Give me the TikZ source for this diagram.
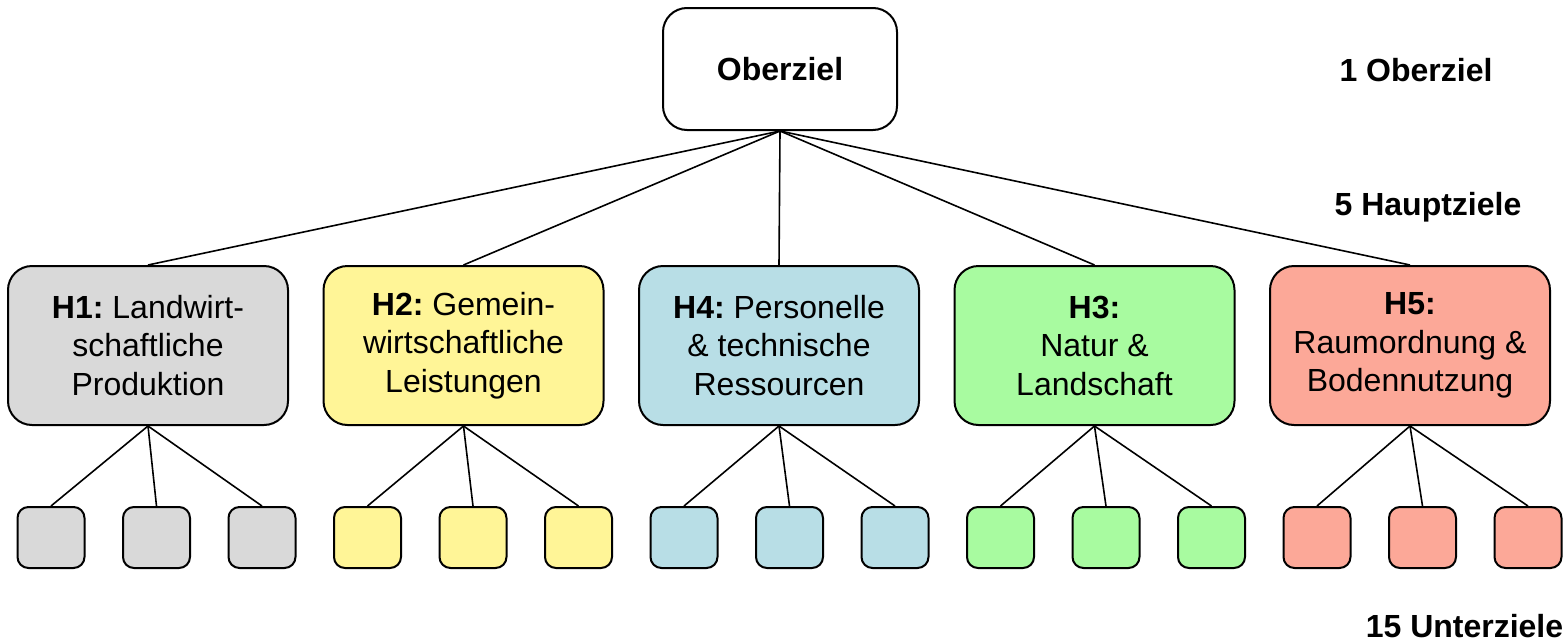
\documentclass[tikz,border=0pt]{standalone}
\usepackage{fontspec}
\setmainfont{Liberation Sans}
\frenchspacing
\definecolor{cgray}{HTML}{D9D9D9}
\definecolor{cyellow}{HTML}{FFF597}
\definecolor{cblue}{HTML}{B8DEE6}
\definecolor{cgreen}{HTML}{A8FBA0}
\definecolor{csalmon}{HTML}{FCA898}
\tikzset{
  bigfont/.style={font=\fontsize{32}{38.5}\selectfont},
  topbox/.style={draw, line width=2pt, rounded corners=24pt, fill=white, minimum width=234pt, minimum height=122pt, inner sep=0pt, bigfont},
  hbox/.style={draw, line width=2pt, rounded corners=24pt, minimum width=280pt, minimum height=159pt, inner sep=0pt, align=center, bigfont},
  ubox/.style={draw, line width=2pt, rounded corners=11pt, minimum width=67pt, minimum height=61pt, inner sep=0pt},
  conn/.style={line width=1.6pt},
  lvl/.style={anchor=base, inner sep=0pt, bigfont}
}
\begin{document}
\begin{tikzpicture}[x=1pt,y=-1pt]
\useasboundingbox (0,0) rectangle (1564,643);
\node[topbox] (O) at (780,69) {\textbf{Oberziel}};
\node[hbox, fill=cgray]    (H1) at (148,345.5)  {\textbf{H1:} Landwirt-\\schaftliche\\Produktion};
\node[hbox, fill=cyellow]  (H2) at (463.5,345.5){\textbf{H2:} Gemein-\\wirtschaftliche\\Leistungen};
\node[hbox, fill=cblue]    (H4) at (779,345.5)  {\textbf{H4:} Personelle\\\& technische\\Ressourcen};
\node[hbox, fill=cgreen]   (H3) at (1094.5,345.5){\textbf{H3:}\\Natur \&\\Landschaft};
\node[hbox, fill=csalmon]  (H5) at (1410,345.5) {\textbf{H5:}\\Raumordnung \&\\Bodennutzung};
\foreach \h in {H1,H2,H4,H3,H5} \draw[conn] (O.south) -- (\h.north);
\foreach \k/\c/\p in {0/cgray/H1,1/cgray/H1,2/cgray/H1,
                      3/cyellow/H2,4/cyellow/H2,5/cyellow/H2,
                      6/cblue/H4,7/cblue/H4,8/cblue/H4,
                      9/cgreen/H3,10/cgreen/H3,11/cgreen/H3,
                      12/csalmon/H5,13/csalmon/H5,14/csalmon/H5}{
  \node[ubox, fill=\c] (U\k) at ({51+105.5*\k},537.5) {};
  \draw[conn] (\p.south) -- (U\k.north);
}
\node[lvl] (L1) at (1416,81) {\textbf{1 Oberziel}};
\node[lvl] (L2) at (1428,215) {\textbf{5 Hauptziele}};
\node[lvl] (L3) at (1464.5,637) {\textbf{15 Unterziele}};
\end{tikzpicture}
\end{document}
